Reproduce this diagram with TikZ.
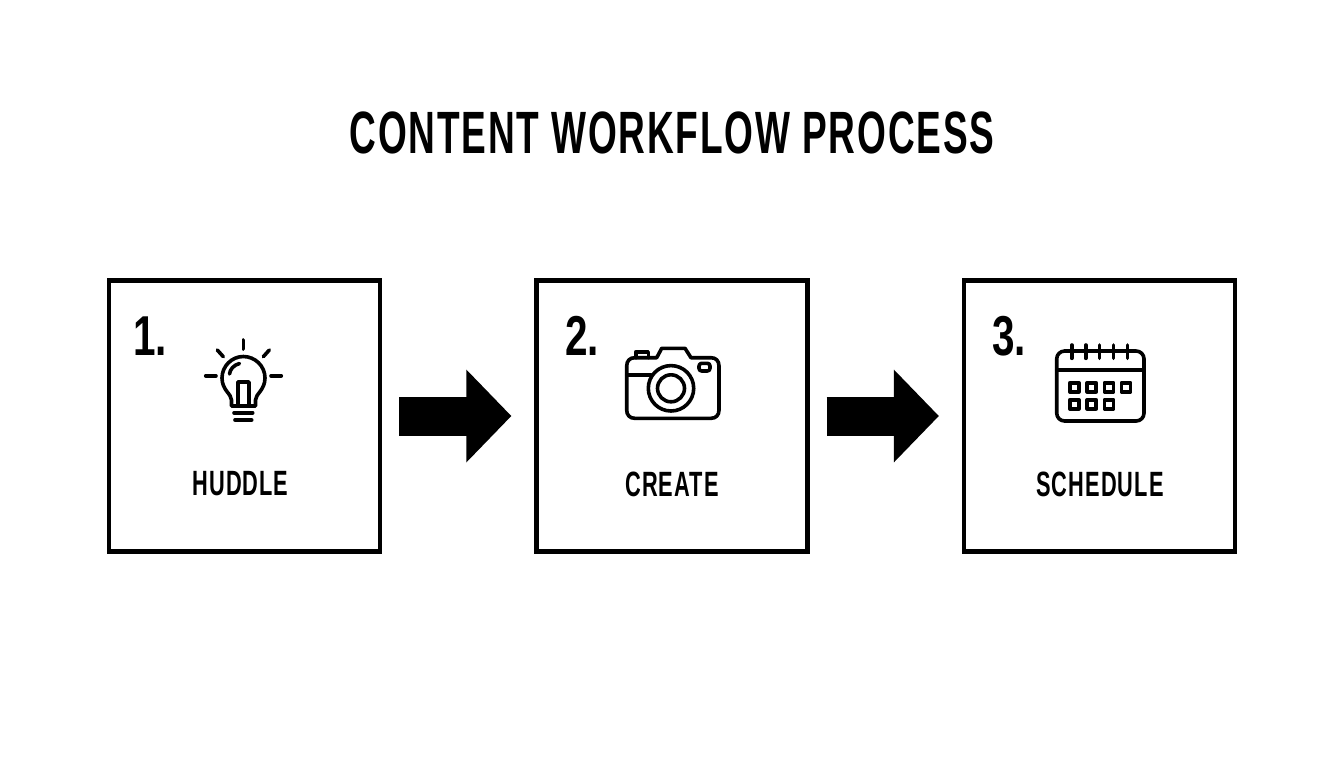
\documentclass[tikz,border=0pt]{standalone}
\usepackage{fontspec}
\usepackage{tikz}
\usetikzlibrary{arrows.meta}
\newfontfamily\condfont[FakeStretch=0.62,LetterSpace=3.0]{Liberation Sans}
\newfontfamily\numfont[FakeStretch=0.72]{Liberation Sans}
\tikzset{
    boxnode/.style={draw=black, line width=0.085cm, rectangle, minimum width=5.42cm, minimum height=5.42cm},
    titlenode/.style={font=\condfont\fontsize{34}{34}\bfseries\selectfont},
    numnode/.style={font=\numfont\fontsize{32}{32}\bfseries\selectfont},
    labelnode/.style={font=\condfont\fontsize{20}{20}\bfseries\selectfont},
    blockarrow/.style={line width=0.78cm, shorten <=0.34cm, shorten >=0.46cm, -{Triangle[length=0.9cm, width=1.8cm, sharp]}},
    iconline/.style={line width=0.072cm, line cap=round, line join=round}
}
\begin{document}
\begin{tikzpicture}[x=0.02cm, y=-0.02cm]
    \useasboundingbox (0, 0) rectangle (1344, 768);

    \node[titlenode] at (672, 133) (title) {CONTENT WORKFLOW PROCESS};

    \node[boxnode] at (244.5, 416) (box1) {};
    \node[boxnode] at (672, 416) (box2) {};
    \node[boxnode] at (1099.5, 416) (box3) {};

    \node[numnode] at (150, 336) (num1) {1.};
    \node[numnode] at (582, 336) (num2) {2.};
    \node[numnode] at (1009, 336) (num3) {3.};

    \node[labelnode] at (240.5, 484) (label1) {HUDDLE};
    \node[labelnode] at (672, 484) (label2) {CREATE};
    \node[labelnode] at (1100, 484) (label3) {SCHEDULE};

    \draw[blockarrow] (box1) -- (box2);
    \draw[blockarrow] (box2) -- (box3);

    % bulb
    \draw[iconline] (243.3, 340) -- (243.3, 349);
    \draw[iconline] (217.3, 350) -- (223.3, 356.7);
    \draw[iconline] (269.3, 350) -- (263.3, 356.7);
    \draw[iconline] (205.7, 375.7) -- (216, 375.7);
    \draw[iconline] (271, 375.7) -- (281.3, 375.7);
    \draw[iconline] (231.5, 406) -- (231.5, 400) .. controls (231.5, 394) and (222, 390) .. (222, 378)
        .. controls (222, 366) and (232, 356.5) .. (243.3, 356.5)
        .. controls (255, 356.5) and (265, 366) .. (265, 378)
        .. controls (265, 390) and (255.5, 394) .. (255.5, 400) -- (255.5, 406) -- cycle;
    \draw[iconline] (238, 405) -- (238, 382) -- (249, 382) -- (249, 405);
    \draw[iconline] (229.5, 374) .. controls (230, 369) and (234, 365) .. (239.5, 363.5);
    \draw[iconline] (234, 412.7) -- (252.7, 412.7);
    \draw[iconline] (235, 420) -- (251.7, 420);

    % camera
    \draw[iconline] (634.7, 357.7) -- (656.7, 357.7) -- (661.7, 348.3) -- (685, 348.3) -- (691, 357.7) -- (711, 357.7)
        .. controls (716, 357.7) and (719, 361) .. (719, 366) -- (719, 410)
        .. controls (719, 415) and (716, 418.3) .. (711, 418.3) -- (634.7, 418.3)
        .. controls (629.7, 418.3) and (626.7, 415) .. (626.7, 410) -- (626.7, 366)
        .. controls (626.7, 361) and (629.7, 357.7) .. (634.7, 357.7) -- cycle;
    \draw[iconline] (635.7, 357.7) -- (635.7, 351.7) -- (648.3, 351.7) -- (648.3, 357.7);
    \draw[iconline] (626.7, 375) -- (651, 375);
    \draw[iconline] (671, 388.3) circle[radius=22.7];
    \draw[iconline] (671, 388.3) circle[radius=13.5];
    \draw[iconline, rounded corners=1.5pt] (699, 363.3) rectangle (710, 371);

    % calendar
    \draw[iconline, rounded corners=4.5pt] (1056.7, 351) rectangle (1144, 421);
    \draw[iconline] (1056.7, 370) -- (1144, 370);
    \foreach \x in {1071.7, 1085.7, 1099.3, 1113.3, 1127.3} {
        \draw[iconline] (\x, 345) -- (\x, 358.3);
    }
    \foreach \x in {1074.3, 1091.7, 1109, 1126} {
        \draw[iconline] (\x-4.5, 382.8) rectangle (\x+4.5, 391.8);
    }
    \foreach \x in {1074.3, 1091.7, 1109} {
        \draw[iconline] (\x-4.5, 399.8) rectangle (\x+4.5, 408.8);
    }
\end{tikzpicture}
\end{document}
